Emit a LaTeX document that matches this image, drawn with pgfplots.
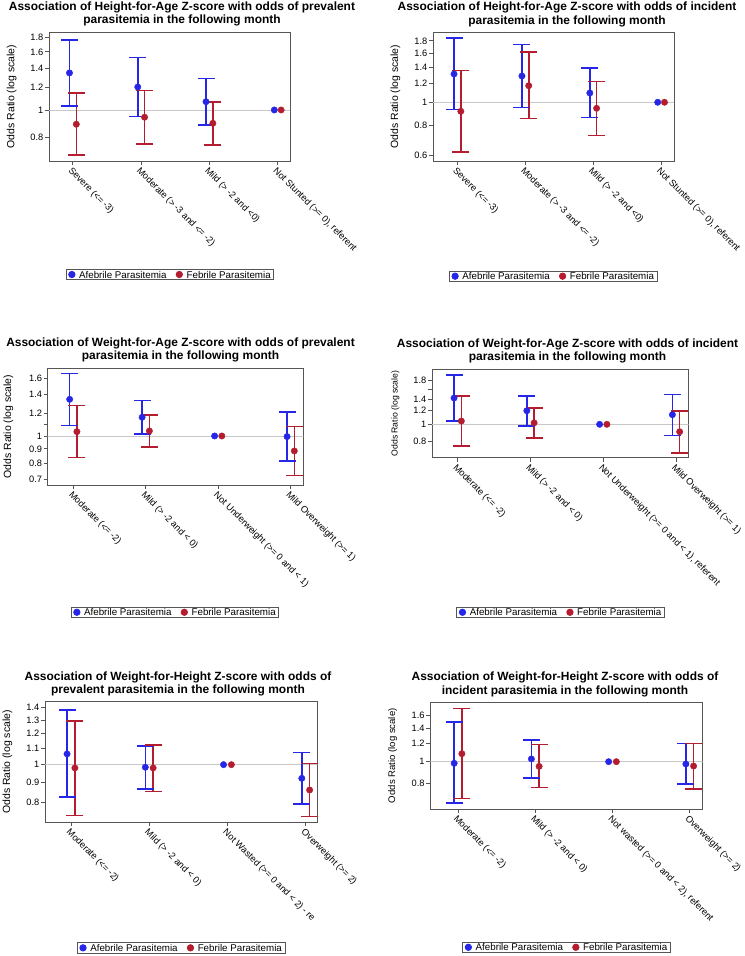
\documentclass[border=0pt]{standalone}
\usepackage{pgfplots}
\pgfplotsset{compat=1.18}
\usepackage{fontspec}
\setmainfont{Liberation Sans}
\definecolor{afb}{RGB}{38,38,230}
\definecolor{feb}{RGB}{180,28,48}
\definecolor{refgray}{RGB}{200,200,200}
\definecolor{framegray}{RGB}{85,85,85}
\pgfplotsset{
  every axis/.append style={
    scale only axis, anchor=south west,
    axis line style={framegray, line width=0.8bp},
    tick style={framegray, line width=0.8bp},
    major tick length=4bp,
    tick align=outside, xtick pos=bottom, ytick pos=left,
    xtick={0,1,2,3}, minor y tick num=0, minor x tick num=0,
    yticklabel style={font=\fontsize{9.3}{10}\selectfont, inner sep=1.5bp},
    xticklabel style={font=\fontsize{9.3}{10}\selectfont, rotate=-45, anchor=north west, inner sep=1bp},
    legend style={font=\fontsize{9.8}{10}\selectfont, draw=framegray, line width=0.8bp,
      inner xsep=2.5bp, inner ysep=1bp, nodes={inner sep=0.6bp, text depth=0bp},
      legend columns=2, anchor=north,
      /tikz/every odd column/.append style={column sep=3.5bp},
      /tikz/every even column/.append style={column sep=9bp}},
  },
  legend image code/.code={\draw[#1] plot coordinates {(3.5bp,0bp)};},
  bbar/.style={afb, line width=1.6bp, no markers, unbounded coords=jump, forget plot},
  rbar/.style={feb, line width=1.6bp, no markers, unbounded coords=jump, forget plot},
  bcap/.style={afb, only marks, mark=-, mark size=8.5bp, mark options={line width=1.6bp}, forget plot},
  rcap/.style={feb, only marks, mark=-, mark size=8.5bp, mark options={line width=1.6bp}, forget plot},
  refl/.style={refgray, line width=0.8bp, no markers, forget plot},
}
\tikzset{
  bpt/.style={afb, only marks, mark=*, mark size=3.2bp, mark options={fill=afb, draw=afb}},
  rpt/.style={feb, only marks, mark=*, mark size=3.2bp, mark options={fill=feb, draw=feb}},
}
\newcommand{\ylab}[4]{\node[rotate=90, font=\fontsize{#3}{#3}\selectfont] at (#1bp,-#2bp) {#4};}
\newcommand{\ttl}[3]{\node[font=\bfseries\fontsize{12}{13.4}\selectfont, align=center] at (#1bp,-#2bp) {#3};}
\begin{document}
\begin{tikzpicture}
\path[use as bounding box] (0,0) rectangle (745bp,-956bp);
% ---------------- Panel 1
\ttl{182}{14}{Association of Height-for-Age Z-score with odds of prevalent\\parasitemia in the following month}
\ylab{11.7}{96.5}{10.5}{Odds Ratio (log scale)}
\begin{axis}[ymode=log, at={(49bp,-161bp)}, width=241bp, height=129bp,
  xmin=-0.35, xmax=3.18, ymin=0.662, ymax=1.878,
  ytick={0.8,1,1.2,1.4,1.6,1.8}, yticklabels={0.8,1,1.2,1.4,1.6,1.8},
  xticklabels={{Severe (<= -3)},{Moderate (> -3 and <= -2)},{Mild (> -2 and <0)},{Not Stunted (>= 0), referent}},
  legend style={at={(0.502,-0.837)}}]
\addplot[refl] coordinates {(-1,1) (4,1)};
\addplot[bbar] coordinates {(-0.05,1.033) (-0.05,1.757) (-0.05,nan) (0.95,0.950) (0.95,1.526) (0.95,nan) (1.95,0.886) (1.95,1.288)};
\addplot[bcap] coordinates {(-0.05,1.033) (-0.05,1.757) (0.95,0.950) (0.95,1.526) (1.95,0.886) (1.95,1.288)};
\addplot[rbar] coordinates {(0.05,0.695) (0.05,1.145) (0.05,nan) (1.05,0.760) (1.05,1.169) (1.05,nan) (2.05,0.755) (2.05,1.064)};
\addplot[rcap] coordinates {(0.05,0.695) (0.05,1.145) (1.05,0.760) (1.05,1.169) (2.05,0.755) (2.05,1.064)};
\addplot[bpt] coordinates {(-0.05,1.349) (0.95,1.204) (1.95,1.069) (2.95,1)};
\addlegendentry{Afebrile Parasitemia}
\addplot[rpt] coordinates {(0.05,0.891) (1.05,0.943) (2.05,0.898) (3.05,1)};
\addlegendentry{Febrile Parasitemia}
\end{axis}
% ---------------- Panel 2
\ttl{567}{14.5}{Association of Height-for-Age Z-score with odds of incident\\parasitemia in the following month}
\ylab{395.3}{96.7}{10.5}{Odds Ratio (log scale)}
\begin{axis}[ymode=log, at={(433bp,-161bp)}, width=241bp, height=128.7bp,
  xmin=-0.36, xmax=3.19, ymin=0.570, ymax=1.954,
  ytick={0.6,0.8,1,1.2,1.4,1.6,1.8}, yticklabels={0.6,0.8,1,1.2,1.4,1.6,1.8},
  xticklabels={{Severe (<= -3)},{Moderate (> -3 and <= -2)},{Mild (> -2 and <0)},{Not Stunted (>= 0), referent}},
  legend style={at={(0.499,-0.852)}}]
\addplot[refl] coordinates {(-1,1) (4,1)};
\addplot[bbar] coordinates {(-0.05,0.932) (-0.05,1.850) (-0.05,nan) (0.95,0.950) (0.95,1.742) (0.95,nan) (1.95,0.866) (1.95,1.385)};
\addplot[bcap] coordinates {(-0.05,0.932) (-0.05,1.850) (0.95,0.950) (0.95,1.742) (1.95,0.866) (1.95,1.385)};
\addplot[rbar] coordinates {(0.05,0.622) (0.05,1.353) (0.05,nan) (1.05,0.855) (1.05,1.618) (1.05,nan) (2.05,0.729) (2.05,1.218)};
\addplot[rcap] coordinates {(0.05,0.622) (0.05,1.353) (1.05,0.855) (1.05,1.618) (2.05,0.729) (2.05,1.218)};
\addplot[bpt] coordinates {(-0.05,1.311) (0.95,1.286) (1.95,1.093) (2.95,1)};
\addlegendentry{Afebrile Parasitemia}
\addplot[rpt] coordinates {(0.05,0.917) (1.05,1.172) (2.05,0.944) (3.05,1)};
\addlegendentry{Febrile Parasitemia}
\end{axis}
% ---------------- Panel 3
\ttl{180.5}{350}{Association of Weight-for-Age Z-score with odds of prevalent\\parasitemia in the following month}
\ylab{8.3}{426.7}{10.5}{Odds Ratio (log scale)}
\begin{axis}[ymode=log, at={(47.7bp,-485bp)}, width=255.6bp, height=116.7bp,
  xmin=-0.353, xmax=3.174, ymin=0.670, ymax=1.738,
  ytick={0.7,0.8,0.9,1,1.1,1.2,1.4,1.6}, yticklabels={0.7,0.8,0.9,1,,1.2,1.4,1.6},
  xticklabels={{Moderate (<= -2)},{Mild (> -2 and < 0)},{Not Underweight (>= 0 and < 1)},{Mild Overweight (>= 1)}},
  legend style={at={(0.498,-1.043)}}]
\addplot[refl] coordinates {(-1,1) (4,1)};
\addplot[bbar] coordinates {(-0.05,1.088) (-0.05,1.668) (-0.05,nan) (0.95,1.016) (0.95,1.334) (0.95,nan) (2.95,0.817) (2.95,1.219)};
\addplot[bcap] coordinates {(-0.05,1.088) (-0.05,1.668) (0.95,1.016) (0.95,1.334) (2.95,0.817) (2.95,1.219)};
\addplot[rbar] coordinates {(0.05,0.838) (0.05,1.281) (0.05,nan) (1.05,0.914) (1.05,1.187) (1.05,nan) (3.05,0.723) (3.05,1.082)};
\addplot[rcap] coordinates {(0.05,0.838) (0.05,1.281) (1.05,0.914) (1.05,1.187) (3.05,0.723) (3.05,1.082)};
\addplot[bpt] coordinates {(-0.05,1.349) (0.95,1.165) (1.95,1) (2.95,0.995)};
\addlegendentry{Afebrile Parasitemia}
\addplot[rpt] coordinates {(0.05,1.036) (1.05,1.042) (2.05,1) (3.05,0.885)};
\addlegendentry{Febrile Parasitemia}
\end{axis}
% ---------------- Panel 4
\ttl{567.5}{351}{Association of Weight-for-Age Z-score with odds of incident\\parasitemia in the following month}
\ylab{395.3}{413.5}{8.7}{Odds Ratio (log scale)}
\begin{axis}[ymode=log, at={(432bp,-457.7bp)}, width=256.7bp, height=88.4bp,
  xmin=-0.353, xmax=3.174, ymin=0.641, ymax=2.082,
  ytick={0.8,1,1.2,1.4,1.6,1.8}, yticklabels={0.8,1,1.2,1.4,,1.8},
  xticklabels={{Moderate (<= -2)},{Mild (> -2 and < 0)},{Not Underweight (>= 0 and < 1), referent},{Mild Overweight (>= 1)}},
  legend style={at={(0.501,-1.686)}}]
\addplot[refl] coordinates {(-1,1) (4,1)};
\addplot[bbar] coordinates {(-0.05,1.045) (-0.05,1.929) (-0.05,nan) (0.95,0.980) (0.95,1.458) (0.95,nan) (2.95,0.864) (2.95,1.492)};
\addplot[bcap] coordinates {(-0.05,1.045) (-0.05,1.929) (0.95,0.980) (0.95,1.458) (2.95,0.864) (2.95,1.492)};
\addplot[rbar] coordinates {(0.05,0.749) (0.05,1.458) (0.05,nan) (1.05,0.836) (1.05,1.248) (1.05,nan) (3.05,0.685) (3.05,1.199)};
\addplot[rcap] coordinates {(0.05,0.749) (0.05,1.458) (1.05,0.836) (1.05,1.248) (3.05,0.685) (3.05,1.199)};
\addplot[bpt] coordinates {(-0.05,1.420) (0.95,1.199) (1.95,1) (2.95,1.137)};
\addlegendentry{Afebrile Parasitemia}
\addplot[rpt] coordinates {(0.05,1.045) (1.05,1.020) (2.05,1) (3.05,0.906)};
\addlegendentry{Febrile Parasitemia}
\end{axis}
% ---------------- Panel 5
\ttl{178}{683.7}{Association of Weight-for-Height Z-score with odds of\\prevalent parasitemia in the following month}
\ylab{7.5}{762}{10.5}{Odds Ratio (log scale)}
\begin{axis}[ymode=log, at={(45bp,-822.3bp)}, width=272.3bp, height=120.6bp,
  xmin=-0.332, xmax=3.148, ymin=0.713, ymax=1.447,
  ytick={0.8,0.9,1,1.1,1.2,1.3,1.4}, yticklabels={0.8,0.9,1,1.1,1.2,1.3,1.4},
  xticklabels={{Moderate (<= -2)},{Mild (> -2 and < 0)},{Not Wasted (>= 0 and < 2) - re},{Overweight (>= 2)}},
  legend style={at={(0.5,-0.995)}}]
\addplot[refl] coordinates {(-1,1) (4,1)};
\addplot[bbar] coordinates {(-0.05,0.826) (-0.05,1.376) (-0.05,nan) (0.95,0.867) (0.95,1.116) (0.95,nan) (2.95,0.794) (2.95,1.073)};
\addplot[bcap] coordinates {(-0.05,0.826) (-0.05,1.376) (0.95,0.867) (0.95,1.116) (2.95,0.794) (2.95,1.073)};
\addplot[rbar] coordinates {(0.05,0.742) (0.05,1.294) (0.05,nan) (1.05,0.854) (1.05,1.122) (1.05,nan) (3.05,0.737) (3.05,1.006)};
\addplot[rcap] coordinates {(0.05,0.742) (0.05,1.294) (1.05,0.854) (1.05,1.122) (3.05,0.737) (3.05,1.006)};
\addplot[bpt] coordinates {(-0.05,1.065) (0.95,0.985) (1.95,1) (2.95,0.923)};
\addlegendentry{Afebrile Parasitemia}
\addplot[rpt] coordinates {(0.05,0.981) (1.05,0.981) (2.05,1) (3.05,0.862)};
\addlegendentry{Febrile Parasitemia}
\end{axis}
% ---------------- Panel 6
\ttl{565}{684.5}{Association of Weight-for-Height Z-score with odds of\\incident parasitemia in the following month}
\ylab{392.7}{755.7}{9.6}{Odds Ratio (log scale)}
\begin{axis}[ymode=log, at={(430.3bp,-809bp)}, width=272.4bp, height=106.7bp,
  xmin=-0.359, xmax=3.168, ymin=0.620, ymax=1.822,
  ytick={0.8,1,1.2,1.4,1.6}, yticklabels={0.8,1,1.2,1.4,1.6},
  xticklabels={{Moderate (<= -2)},{Mild (> -2 and < 0)},{Not wasted (>= 0 and < 2), referent},{Overweight (>= 2)}},
  legend style={at={(0.5,-1.244)}}]
\addplot[refl] coordinates {(-1,1) (4,1)};
\addplot[bbar] coordinates {(-0.05,0.657) (-0.05,1.489) (-0.05,nan) (0.95,0.846) (0.95,1.245) (0.95,nan) (2.95,0.796) (2.95,1.204)};
\addplot[bcap] coordinates {(-0.05,0.657) (-0.05,1.489) (0.95,0.846) (0.95,1.245) (2.95,0.796) (2.95,1.204)};
\addplot[rbar] coordinates {(0.05,0.690) (0.05,1.715) (0.05,nan) (1.05,0.769) (1.05,1.192) (1.05,nan) (3.05,0.761) (3.05,1.204)};
\addplot[rcap] coordinates {(0.05,0.690) (0.05,1.715) (1.05,0.769) (1.05,1.192) (3.05,0.761) (3.05,1.204)};
\addplot[bpt] coordinates {(-0.05,0.984) (0.95,1.028) (1.95,1) (2.95,0.977)};
\addlegendentry{Afebrile Parasitemia}
\addplot[rpt] coordinates {(0.05,1.084) (1.05,0.954) (2.05,1) (3.05,0.957)};
\addlegendentry{Febrile Parasitemia}
\end{axis}
\end{tikzpicture}
\end{document}
